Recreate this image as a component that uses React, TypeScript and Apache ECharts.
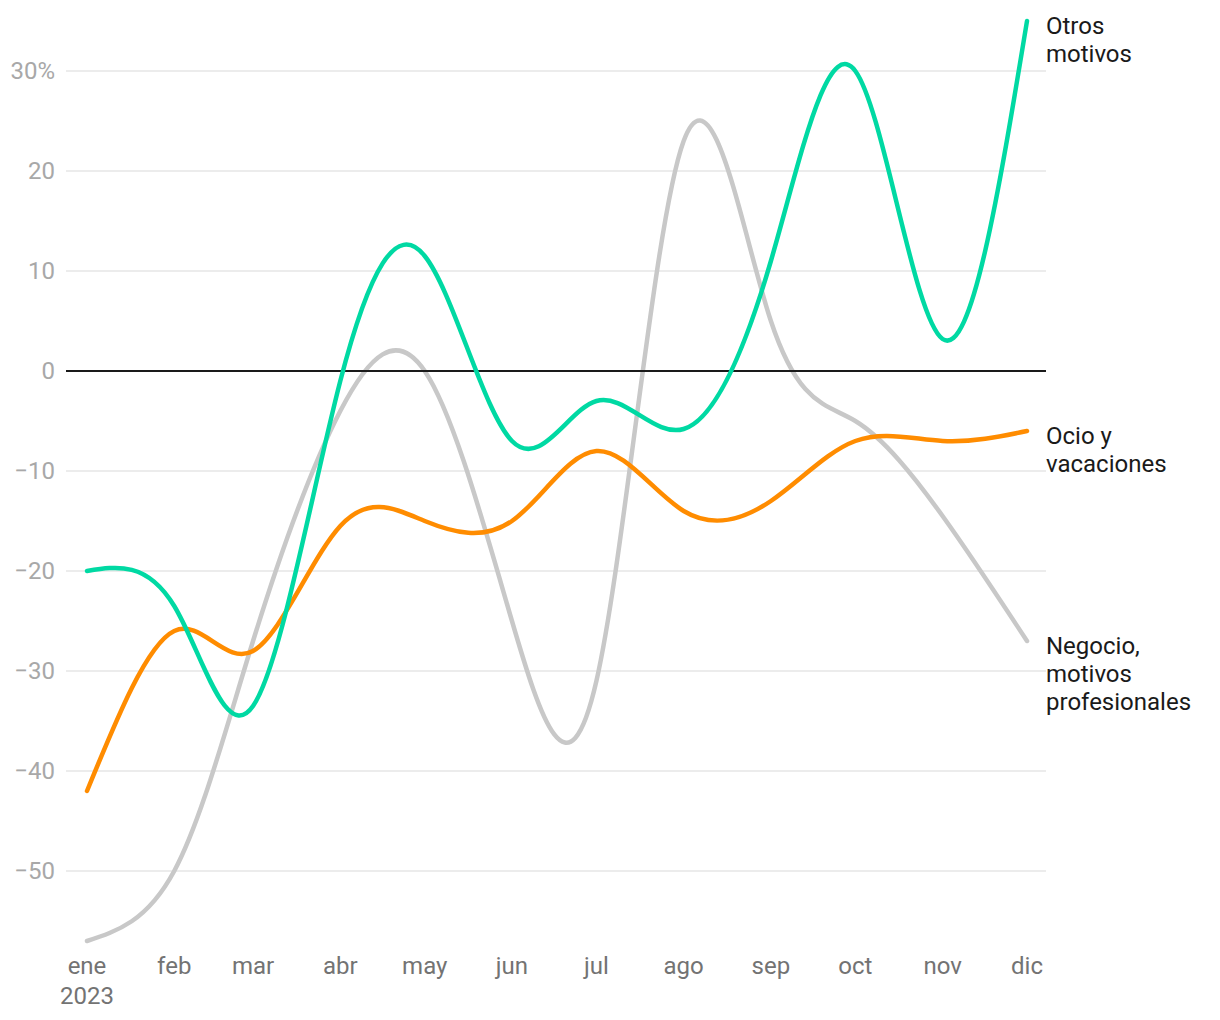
import React, { useEffect, useRef } from 'react';
import * as echarts from 'echarts';

const monthStarts = [
  '2023-01-01', '2023-02-01', '2023-03-01', '2023-04-01', '2023-05-01', '2023-06-01',
  '2023-07-01', '2023-08-01', '2023-09-01', '2023-10-01', '2023-11-01', '2023-12-01',
];
const monthLabels = ['ene', 'feb', 'mar', 'abr', 'may', 'jun', 'jul', 'ago', 'sep', 'oct', 'nov', 'dic'];
const yearLabel = '2023';

const negocioProfesionales = [-57, -50, -27, -4, 0, -25, -31, 23, 5, -5, -14.5, -27];
const ocioVacaciones = [-42, -26, -28, -15.5, -15, -15, -8, -14, -13, -7, -7, -6];
const otrosMotivos = [-20, -23.5, -33.5, -1, 11.5, -7, -3, -5.8, 11, 30, 3.2, 35];

const seriesNames = ['Negocio,\nmotivos\nprofesionales', 'Ocio y\nvacaciones', 'Otros\nmotivos'];
const seriesColors = ['#c8c8c8', '#ff8c00', '#00d9a3'];

const DAY = 864e5;

function toPairs(values: number[]) {
  return monthStarts.map((d, i) => {
    const [y, m, dd] = d.split('-').map(Number);
    return [new Date(y, m - 1, dd).getTime(), values[i]];
  });
}

// Natural cubic spline control points (same scheme as d3.curveNatural), in pixel space
function naturalControls(x: number[]): [number[], number[]] {
  const n = x.length - 1;
  const a: number[] = new Array(n);
  const b: number[] = new Array(n);
  const r: number[] = new Array(n);
  a[0] = 0; b[0] = 2; r[0] = x[0] + 2 * x[1];
  for (let i = 1; i < n - 1; ++i) { a[i] = 1; b[i] = 4; r[i] = 4 * x[i] + 2 * x[i + 1]; }
  a[n - 1] = 2; b[n - 1] = 7; r[n - 1] = 8 * x[n - 1] + x[n];
  for (let i = 1; i < n; ++i) { const m = a[i] / b[i - 1]; b[i] -= m; r[i] -= m * r[i - 1]; }
  a[n - 1] = r[n - 1] / b[n - 1];
  for (let i = n - 2; i >= 0; --i) a[i] = (r[i] - a[i + 1]) / b[i];
  b[n - 1] = (x[n] + a[n - 1]) / 2;
  for (let i = 0; i < n - 1; ++i) b[i] = 2 * x[i + 1] - a[i + 1];
  return [a, b];
}

export default function App() {
  const ref = useRef<HTMLDivElement>(null);
  useEffect(() => {
    if (!ref.current) return;
    const chart = echarts.init(ref.current, null, { renderer: 'svg' });
    const xMin = new Date(2023, 0, 1).getTime() - 7.46 * DAY;
    const xMax = new Date(2023, 11, 1).getTime() + 6.75 * DAY;
    const allValues = [negocioProfesionales, ocioVacaciones, otrosMotivos];
    const lineSeries: any[] = allValues.map((vals, i) => {
      const pairs = toPairs(vals);
      return {
        type: 'custom',
        name: seriesNames[i],
        data: pairs,
        z: 3 + i,
        silent: true,
        encode: { x: 0, y: 1 },
        renderItem: (params: any, api: any) => {
          if (params.dataIndex !== 0) return null;
          const pts = pairs.map((p) => api.coord(p));
          const xs = pts.map((p: number[]) => p[0]);
          const ys = pts.map((p: number[]) => p[1]);
          const [ax, bx] = naturalControls(xs);
          const [ay, by] = naturalControls(ys);
          let d = `M${xs[0]},${ys[0]}`;
          for (let k = 0; k < xs.length - 1; k++) {
            d += `C${ax[k]},${ay[k]},${bx[k]},${by[k]},${xs[k + 1]},${ys[k + 1]}`;
          }
          const last = pts[pts.length - 1];
          return {
            type: 'group',
            children: [
              {
                type: 'path',
                shape: { pathData: d },
                style: {
                  fill: 'none',
                  stroke: seriesColors[i],
                  lineWidth: 4.5,
                  lineCap: 'round',
                  lineJoin: 'round',
                },
              },
              {
                type: 'text',
                x: last[0] + 19,
                y: last[1] - 9,
                style: {
                  text: seriesNames[i],
                  fill: '#1a1a1a',
                  fontSize: 24,
                  fontFamily: 'Roboto',
                  lineHeight: 28,
                  align: 'left',
                  verticalAlign: 'top',
                },
              },
            ],
          };
        },
      };
    });
    const zeroSeries = {
      type: 'line',
      name: 'zero',
      data: [],
      z: 2,
      silent: true,
      markLine: {
        silent: true,
        symbol: 'none',
        label: { show: false },
        lineStyle: { color: '#1a1a1a', width: 2, type: 'solid' },
        data: [{ yAxis: 0 }],
      },
    };
    chart.setOption({
      animation: false,
      textStyle: { fontFamily: 'Roboto' },
      grid: { left: 66, right: 174, top: 11, bottom: 69, containLabel: false },
      xAxis: {
        type: 'time',
        min: xMin,
        max: xMax,
        splitNumber: 12,
        minInterval: 28 * DAY,
        maxInterval: 31 * DAY,
        axisLine: { show: false },
        axisTick: { show: false },
        splitLine: { show: false },
        axisLabel: {
          showMinLabel: false,
          showMaxLabel: false,
          color: '#737373',
          fontSize: 24,
          lineHeight: 30,
          margin: 0,
          hideOverlap: false,
          formatter: (value: number) => {
            const d = new Date(value);
            const m = d.getMonth();
            return m === 0 ? monthLabels[m] + '\n' + yearLabel : monthLabels[m];
          },
        },
      },
      yAxis: {
        type: 'value',
        min: -58,
        max: 36,
        minInterval: 10,
        maxInterval: 10,
        axisLine: { show: false },
        axisTick: { show: false },
        splitLine: {
          show: true,
          showMinLine: false,
          showMaxLine: false,
          lineStyle: { color: '#e6e6e6', width: 1.5 },
        },
        axisLabel: {
          showMinLabel: false,
          showMaxLabel: false,
          color: '#a8a8a8',
          fontSize: 24,
          margin: 11,
          formatter: (v: number) => {
            if (v === 30) return '30%';
            if (v < 0) return '\u2212' + Math.abs(v);
            return String(v);
          },
        },
      },
      series: [zeroSeries, ...lineSeries],
    });
    return () => chart.dispose();
  }, []);
  return (
    <div
      ref={ref}
      style={{ position: 'fixed', left: 0, top: 0, width: 1220, height: 1020, background: '#fff' }}
    />
  );
}
